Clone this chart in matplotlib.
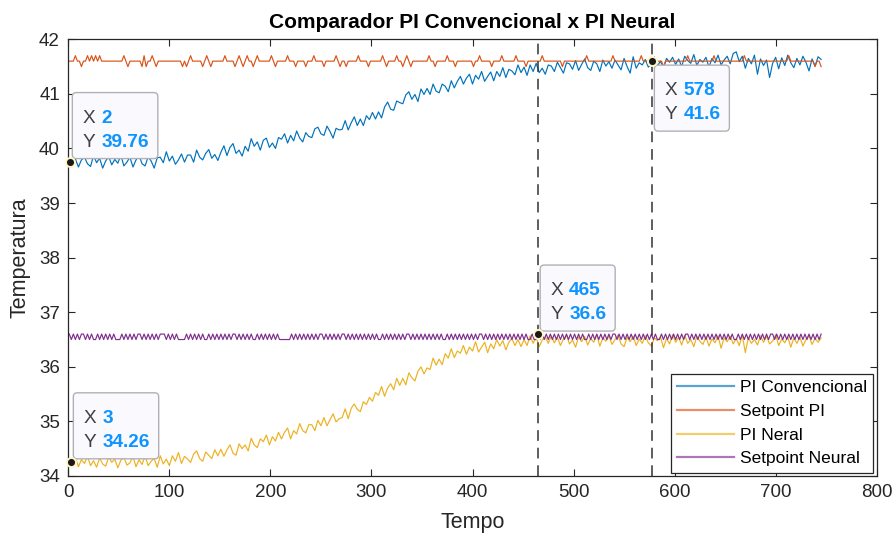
import numpy as np
import matplotlib
matplotlib.use("Agg")
import matplotlib.pyplot as plt
from matplotlib.patches import FancyBboxPatch
from matplotlib.lines import Line2D
from matplotlib.transforms import IdentityTransform

plt.rcParams['font.family'] = ['Liberation Sans', 'DejaVu Sans']

# ---------------- data ----------------
# process variables, sampled every 3 time units (t = 1, 4, ..., 745)
t_proc = np.arange(1, 746, 3)

pi_convencional = [
    39.76, 39.69, 39.81, 39.66, 39.79, 39.84, 39.72, 39.67, 39.87, 39.74,
    39.82, 39.64, 39.77, 39.85, 39.70, 39.80, 39.73, 39.88, 39.68, 39.75,
    39.84, 39.66, 39.79, 39.87, 39.72, 39.68, 39.85, 39.77, 39.64, 39.83,
    39.84, 39.74, 39.94, 39.77, 39.86, 39.71, 39.79, 39.90, 39.75, 39.88,
    39.88, 39.75, 39.97, 39.84, 39.79, 39.91, 39.98, 39.82, 39.89, 39.78,
    39.93, 40.05, 39.87, 40.02, 40.09, 39.91, 39.97, 39.86, 40.04, 39.95,
    40.18, 40.04, 40.12, 39.97, 40.15, 40.19, 40.02, 40.10, 40.00, 40.20,
    40.17, 40.27, 40.10, 40.24, 40.14, 40.32, 40.19, 40.12, 40.29, 40.22,
    40.20, 40.36, 40.39, 40.27, 40.24, 40.41, 40.31, 40.19, 40.37, 40.34,
    40.35, 40.51, 40.34, 40.47, 40.58, 40.42, 40.54, 40.42, 40.60, 40.53,
    40.66, 40.54, 40.67, 40.56, 40.76, 40.85, 40.72, 40.70, 40.87, 40.84,
    40.82, 40.98, 41.04, 40.90, 40.99, 40.86, 41.09, 40.99, 41.10, 40.99,
    41.18, 41.05, 41.02, 41.18, 41.14, 41.04, 41.24, 41.11, 41.23, 41.32,
    41.18, 41.29, 41.36, 41.18, 41.34, 41.27, 41.41, 41.23, 41.32, 41.40,
    41.24, 41.41, 41.32, 41.48, 41.30, 41.45, 41.42, 41.35, 41.53, 41.39,
    41.49, 41.34, 41.53, 41.41, 41.56, 41.39, 41.47, 41.36, 41.53, 41.51,
    41.41, 41.58, 41.48, 41.38, 41.57, 41.55, 41.45, 41.61, 41.43, 41.54,
    41.64, 41.48, 41.43, 41.60, 41.55, 41.41, 41.62, 41.51, 41.59, 41.47,
    41.62, 41.53, 41.44, 41.65, 41.50, 41.38, 41.68, 41.47, 41.57, 41.53,
    41.63, 41.49, 41.55, 41.68, 41.51, 41.60, 41.47, 41.65, 41.58, 41.67,
    41.54, 41.64, 41.50, 41.69, 41.61, 41.56, 41.72, 41.52, 41.63, 41.58,
    41.67, 41.49, 41.65, 41.57, 41.71, 41.53, 41.62, 41.69, 41.55, 41.74,
    41.77, 41.59, 41.69, 41.47, 41.65, 41.55, 41.71, 41.36, 41.64, 41.52,
    41.62, 41.30, 41.56, 41.67, 41.46, 41.66, 41.52, 41.71, 41.57, 41.48,
    41.65, 41.53, 41.69, 41.58, 41.42, 41.64, 41.51, 41.68, 41.63,
]

pi_neural = [
    34.26, 34.20, 34.34, 34.17, 34.30, 34.23, 34.36, 34.19, 34.28, 34.16,
    34.33, 34.22, 34.18, 34.35, 34.25, 34.31, 34.15, 34.29, 34.34, 34.20,
    34.24, 34.36, 34.17, 34.30, 34.21, 34.37, 34.19, 34.27, 34.32, 34.16,
    34.37, 34.22, 34.31, 34.19, 34.37, 34.27, 34.43, 34.23, 34.36, 34.31,
    34.25, 34.40, 34.46, 34.32, 34.27, 34.44, 34.38, 34.32, 34.48, 34.37,
    34.49, 34.36, 34.48, 34.57, 34.42, 34.38, 34.59, 34.50, 34.57, 34.46,
    34.69, 34.57, 34.52, 34.68, 34.63, 34.75, 34.57, 34.72, 34.64, 34.80,
    34.68, 34.80, 34.88, 34.68, 34.83, 34.77, 34.96, 34.83, 34.79, 34.94,
    34.94, 34.83, 35.02, 34.92, 35.07, 34.92, 35.03, 35.14, 34.99, 35.05,
    35.07, 35.23, 35.05, 35.24, 35.32, 35.22, 35.18, 35.36, 35.31, 35.44,
    35.37, 35.53, 35.48, 35.64, 35.46, 35.61, 35.69, 35.58, 35.79, 35.66,
    35.79, 35.67, 35.89, 35.80, 35.74, 35.92, 36.00, 35.87, 35.98, 35.95,
    36.16, 36.03, 36.14, 36.04, 36.24, 36.16, 36.33, 36.17, 36.29, 36.25,
    36.39, 36.23, 36.36, 36.29, 36.46, 36.27, 36.36, 36.45, 36.26, 36.42,
    36.33, 36.50, 36.38, 36.48, 36.31, 36.45, 36.52, 36.39, 36.50, 36.37,
    36.50, 36.39, 36.57, 36.43, 36.55, 36.37, 36.49, 36.55, 36.43, 36.57,
    36.44, 36.54, 36.39, 36.51, 36.58, 36.42, 36.49, 36.36, 36.55, 36.46,
    36.56, 36.40, 36.52, 36.45, 36.59, 36.38, 36.53, 36.47, 36.57, 36.41,
    36.50, 36.58, 36.42, 36.37, 36.54, 36.46, 36.56, 36.39, 36.51, 36.43,
    36.57, 36.44, 36.38, 36.53, 36.48, 36.55, 36.35, 36.52, 36.42, 36.59,
    36.45, 36.54, 36.40, 36.58, 36.43, 36.50, 36.37, 36.56, 36.47, 36.41,
    36.55, 36.38, 36.51, 36.44, 36.57, 36.34, 36.53, 36.46, 36.56, 36.42,
    36.52, 36.39, 36.58, 36.26, 36.54, 36.43, 36.50, 36.40, 36.57, 36.45,
    36.56, 36.42, 36.47, 36.59, 36.39, 36.51, 36.44, 36.55, 36.36, 36.53,
    36.43, 36.54, 36.38, 36.50, 36.57, 36.41, 36.52, 36.45, 36.53,
]

# setpoints, sampled every 2 time units (t = 1, 3, ..., 745)
t_set = np.arange(1, 746, 2)

setpoint_pi = [
    41.6, 41.6, 41.6, 41.7, 41.6, 41.6, 41.5, 41.6, 41.6, 41.7, 41.6, 41.7, 41.6, 41.7, 41.6, 41.7, 41.6, 41.6, 41.6, 41.6,
    41.6, 41.6, 41.6, 41.6, 41.6, 41.6, 41.6, 41.7, 41.6, 41.5, 41.6, 41.6, 41.6, 41.6, 41.6, 41.6, 41.5, 41.7, 41.5, 41.6,
    41.6, 41.7, 41.6, 41.5, 41.6, 41.6, 41.6, 41.6, 41.6, 41.6, 41.6, 41.6, 41.6, 41.6, 41.6, 41.6, 41.5, 41.6, 41.5, 41.6,
    41.7, 41.6, 41.6, 41.6, 41.6, 41.6, 41.5, 41.6, 41.7, 41.6, 41.5, 41.6, 41.6, 41.6, 41.6, 41.6, 41.6, 41.7, 41.6, 41.6,
    41.6, 41.6, 41.5, 41.6, 41.7, 41.6, 41.5, 41.6, 41.7, 41.6, 41.6, 41.5, 41.6, 41.7, 41.6, 41.6, 41.6, 41.6, 41.6, 41.6,
    41.7, 41.6, 41.5, 41.6, 41.6, 41.6, 41.6, 41.6, 41.7, 41.6, 41.6, 41.6, 41.5, 41.6, 41.6, 41.6, 41.6, 41.5, 41.6, 41.6,
    41.6, 41.7, 41.6, 41.6, 41.6, 41.6, 41.5, 41.6, 41.6, 41.6, 41.6, 41.6, 41.7, 41.6, 41.5, 41.6, 41.6, 41.5, 41.6, 41.6,
    41.6, 41.6, 41.6, 41.7, 41.6, 41.6, 41.6, 41.6, 41.5, 41.6, 41.6, 41.6, 41.6, 41.6, 41.6, 41.7, 41.6, 41.5, 41.6, 41.6,
    41.6, 41.6, 41.7, 41.6, 41.6, 41.5, 41.6, 41.7, 41.6, 41.5, 41.6, 41.6, 41.6, 41.6, 41.6, 41.6, 41.6, 41.6, 41.7, 41.6,
    41.6, 41.5, 41.6, 41.6, 41.6, 41.6, 41.6, 41.7, 41.6, 41.6, 41.6, 41.5, 41.6, 41.6, 41.6, 41.6, 41.6, 41.6, 41.6, 41.6,
    41.5, 41.6, 41.6, 41.7, 41.6, 41.6, 41.6, 41.6, 41.6, 41.5, 41.6, 41.6, 41.6, 41.6, 41.7, 41.6, 41.6, 41.6, 41.6, 41.6,
    41.6, 41.7, 41.6, 41.6, 41.6, 41.6, 41.5, 41.6, 41.6, 41.6, 41.6, 41.6, 41.6, 41.6, 41.7, 41.6, 41.6, 41.6, 41.6, 41.6,
    41.6, 41.6, 41.6, 41.6, 41.5, 41.6, 41.6, 41.6, 41.6, 41.6, 41.6, 41.6, 41.6, 41.6, 41.6, 41.6, 41.7, 41.6, 41.6, 41.6,
    41.6, 41.6, 41.6, 41.6, 41.6, 41.6, 41.6, 41.6, 41.6, 41.7, 41.6, 41.6, 41.6, 41.6, 41.6, 41.6, 41.6, 41.6, 41.6, 41.6,
    41.6, 41.6, 41.6, 41.7, 41.6, 41.6, 41.6, 41.6, 41.6, 41.6, 41.6, 41.6, 41.6, 41.6, 41.5, 41.6, 41.6, 41.6, 41.6, 41.6,
    41.6, 41.6, 41.6, 41.6, 41.6, 41.6, 41.7, 41.6, 41.6, 41.6, 41.6, 41.6, 41.6, 41.6, 41.6, 41.6, 41.6, 41.6, 41.6, 41.7,
    41.6, 41.6, 41.6, 41.6, 41.6, 41.6, 41.6, 41.6, 41.6, 41.6, 41.6, 41.6, 41.6, 41.6, 41.7, 41.6, 41.6, 41.6, 41.6, 41.6,
    41.6, 41.6, 41.6, 41.6, 41.6, 41.6, 41.6, 41.6, 41.6, 41.6, 41.6, 41.6, 41.6, 41.6, 41.6, 41.6, 41.7, 41.6, 41.6, 41.6,
    41.6, 41.6, 41.6, 41.6, 41.6, 41.6, 41.6, 41.6, 41.6, 41.5, 41.6, 41.6, 41.5,
]

setpoint_neural = [
    36.6, 36.5, 36.6, 36.5, 36.6, 36.5, 36.6, 36.6, 36.5, 36.6, 36.5, 36.6, 36.5, 36.5, 36.6, 36.5, 36.6, 36.5, 36.6, 36.5,
    36.6, 36.5, 36.6, 36.5, 36.5, 36.5, 36.6, 36.5, 36.6, 36.5, 36.6, 36.5, 36.6, 36.5, 36.6, 36.6, 36.5, 36.6, 36.5, 36.6,
    36.5, 36.6, 36.5, 36.6, 36.5, 36.6, 36.6, 36.6, 36.5, 36.6, 36.5, 36.6, 36.5, 36.6, 36.5, 36.5, 36.5, 36.5, 36.6, 36.5,
    36.6, 36.5, 36.6, 36.5, 36.6, 36.5, 36.6, 36.5, 36.5, 36.6, 36.5, 36.6, 36.5, 36.6, 36.5, 36.6, 36.5, 36.6, 36.5, 36.6,
    36.5, 36.6, 36.6, 36.5, 36.6, 36.5, 36.6, 36.5, 36.6, 36.5, 36.6, 36.5, 36.5, 36.6, 36.5, 36.6, 36.5, 36.6, 36.5, 36.6,
    36.5, 36.6, 36.5, 36.6, 36.5, 36.5, 36.5, 36.5, 36.5, 36.5, 36.6, 36.5, 36.6, 36.5, 36.6, 36.5, 36.6, 36.5, 36.6, 36.5,
    36.6, 36.5, 36.6, 36.5, 36.6, 36.6, 36.5, 36.6, 36.5, 36.6, 36.5, 36.6, 36.5, 36.6, 36.5, 36.6, 36.6, 36.5, 36.6, 36.5,
    36.6, 36.5, 36.6, 36.5, 36.6, 36.5, 36.6, 36.5, 36.6, 36.5, 36.6, 36.5, 36.6, 36.5, 36.5, 36.6, 36.5, 36.6, 36.5, 36.6,
    36.5, 36.6, 36.5, 36.6, 36.5, 36.6, 36.5, 36.6, 36.6, 36.5, 36.6, 36.5, 36.6, 36.5, 36.6, 36.5, 36.6, 36.5, 36.6, 36.5,
    36.6, 36.5, 36.6, 36.5, 36.6, 36.5, 36.5, 36.6, 36.5, 36.6, 36.5, 36.6, 36.5, 36.6, 36.5, 36.6, 36.5, 36.6, 36.5, 36.6,
    36.5, 36.6, 36.5, 36.6, 36.6, 36.5, 36.6, 36.5, 36.6, 36.5, 36.6, 36.5, 36.6, 36.5, 36.6, 36.5, 36.6, 36.5, 36.6, 36.5,
    36.6, 36.5, 36.6, 36.5, 36.6, 36.5, 36.6, 36.5, 36.5, 36.6, 36.5, 36.5, 36.6, 36.5, 36.6, 36.5, 36.6, 36.5, 36.6, 36.5,
    36.6, 36.5, 36.6, 36.5, 36.6, 36.5, 36.6, 36.5, 36.6, 36.5, 36.6, 36.5, 36.6, 36.5, 36.6, 36.5, 36.5, 36.6, 36.5, 36.6,
    36.5, 36.6, 36.5, 36.6, 36.5, 36.6, 36.5, 36.6, 36.5, 36.6, 36.6, 36.5, 36.6, 36.5, 36.6, 36.5, 36.6, 36.5, 36.6, 36.5,
    36.6, 36.5, 36.6, 36.5, 36.6, 36.5, 36.6, 36.5, 36.6, 36.5, 36.6, 36.5, 36.5, 36.6, 36.5, 36.6, 36.5, 36.6, 36.5, 36.6,
    36.5, 36.6, 36.5, 36.6, 36.5, 36.6, 36.6, 36.5, 36.6, 36.5, 36.6, 36.5, 36.6, 36.5, 36.6, 36.5, 36.6, 36.5, 36.6, 36.5,
    36.6, 36.5, 36.6, 36.5, 36.6, 36.5, 36.6, 36.5, 36.6, 36.5, 36.5, 36.6, 36.5, 36.6, 36.5, 36.6, 36.5, 36.6, 36.5, 36.6,
    36.5, 36.6, 36.5, 36.6, 36.5, 36.6, 36.5, 36.6, 36.6, 36.5, 36.6, 36.5, 36.6, 36.5, 36.6, 36.5, 36.6, 36.5, 36.6, 36.5,
    36.6, 36.5, 36.6, 36.5, 36.6, 36.5, 36.6, 36.5, 36.6, 36.5, 36.6, 36.5, 36.6,
]

series_labels = ['PI Convencional', 'Setpoint PI', 'PI Neral', 'Setpoint Neural']

# data tips: (x, y, side) -- side tells whether the box sits above or below the point
tip_x = [2, 578, 465, 3]
tip_y = [39.76, 41.6, 36.6, 34.26]
tip_side = ['above', 'below', 'above', 'above']
tip_xtext = ['2', '578', '465', '3']
tip_ytext = ['39.76', '41.6', '36.6', '34.26']

# vertical reference lines
ref_lines = [465, 578]

x_ticks = list(range(0, 801, 100))
y_ticks = list(range(34, 43))

# ---------------- styling ----------------
C_BLUE = '#0072BD'
C_ORANGE = '#D95319'
C_YELLOW = '#EDB120'
C_PURPLE = '#7E2F8E'
C_AX = '#262626'

W, H = 893, 533
fig = plt.figure(figsize=(W / 100, H / 100), dpi=100)
left, right, top, bottom = 68.3, 876.7, 39.3, 476.0
ax = fig.add_axes([left / W, 1 - bottom / H, (right - left) / W, (bottom - top) / H])

lw = 0.85
ax.plot(t_proc, pi_convencional, color=C_BLUE, lw=lw, zorder=2)
ax.plot(t_set, setpoint_pi, color=C_ORANGE, lw=lw, zorder=2)
ax.plot(t_proc, pi_neural, color=C_YELLOW, lw=lw, zorder=2)
ax.plot(t_set, setpoint_neural, color=C_PURPLE, lw=lw, zorder=2)

for xv in ref_lines:
    ax.axvline(xv, color='#333333', lw=1.1, ls=(0, (7, 4.5)), zorder=3)

ax.set_xlim(0, 800)
ax.set_ylim(34, 42)
ax.set_xticks(x_ticks)
ax.set_yticks(y_ticks)
ax.tick_params(direction='in', length=5, width=0.8, top=True, right=True,
               labelsize=13.5, colors=C_AX, pad=6)
for s in ax.spines.values():
    s.set_color(C_AX)
    s.set_linewidth(0.9)

ax.set_title('Comparador PI Convencional x PI Neural', fontsize=15,
             fontweight='bold', pad=8, color='black')
ax.set_xlabel('Tempo', fontsize=15.5, color=C_AX, labelpad=7.5)
ax.set_ylabel('Temperatura', fontsize=15.5, color=C_AX, labelpad=6)

handles = [Line2D([], [], color=c, lw=1.6, alpha=0.65)
           for c in (C_BLUE, C_ORANGE, C_YELLOW, C_PURPLE)]
leg = ax.legend(handles, series_labels, loc='lower right', fontsize=12.5,
                frameon=True, fancybox=False, edgecolor=C_AX, framealpha=1,
                borderaxespad=0.2, handlelength=3.3, handletextpad=0.35,
                labelspacing=0.5, borderpad=0.35)
leg.get_frame().set_linewidth(0.9)
for txt in leg.get_texts():
    txt.set_color('black')
leg.set_zorder(6)

# ---------------- data tips ----------------
renderer = fig.canvas.get_renderer()
ident = IdentityTransform()
fs_tip = 13.7
for x, y, side, xs, ys in zip(tip_x, tip_y, tip_side, tip_xtext, tip_ytext):
    px, py = ax.transData.transform((x, y))
    ax.plot([x], [y], 'o', ms=6.5, mfc='#1a1a1a', mec='#fff6c8', mew=1.4,
            zorder=8, clip_on=False)
    # measure the widest value to size the box
    widths = []
    for s in (xs, ys):
        tt = fig.text(0, 0, s, fontsize=fs_tip, fontweight='bold')
        widths.append(tt.get_window_extent(renderer).width)
        tt.remove()
    bw = 29 + max(widths) + 9
    bh = 66
    bx = px + 2
    by = py + 3 if side == 'above' else py - 4 - bh
    box = FancyBboxPatch((bx, by), bw, bh,
                         boxstyle='round,pad=0,rounding_size=4',
                         transform=ident, facecolor='#f9f9fe',
                         edgecolor='#b0b0b6', lw=1.0, zorder=7, clip_on=False)
    ax.add_artist(box)
    ytop = by + bh
    for lab, val, base in (('X', xs, ytop - 30), ('Y', ys, ytop - 54)):
        ax.text(bx + 10, base, lab, transform=ident, fontsize=fs_tip,
                color='#404040', va='baseline', ha='left', zorder=9)
        ax.text(bx + 29, base, val, transform=ident, fontsize=fs_tip,
                color='#0d94ff', fontweight='bold', va='baseline', ha='left',
                zorder=9)

fig.savefig('out.png', dpi=100)
